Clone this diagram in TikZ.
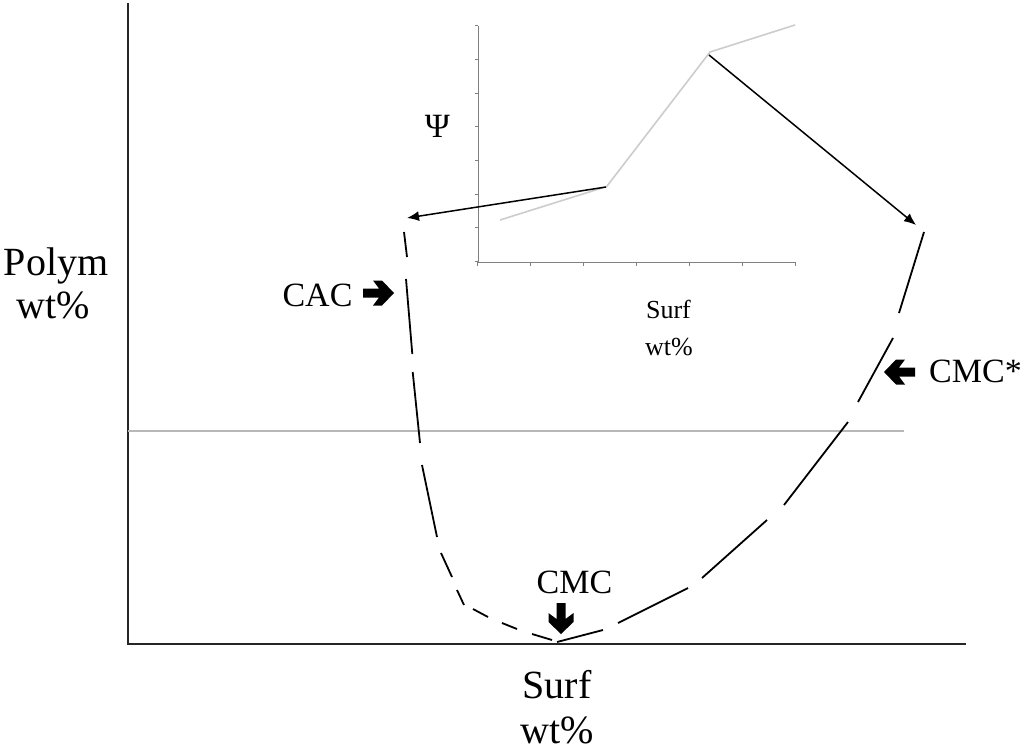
\documentclass[tikz,border=0pt]{standalone}
\usepackage{fontspec}
\setmainfont{Liberation Serif}
\usetikzlibrary{arrows.meta}
\begin{document}
\begin{tikzpicture}[x=1pt,y=-1pt,
  axis/.style={line width=2pt,black!85},
  inax/.style={line width=1pt,black!50},
  incurve/.style={line width=1.6pt,black!20},
  guide/.style={line width=1.4pt,black!28},
  bnd/.style={line width=1.8pt,black},
  pointer/.style={line width=1.5pt,black,-{Latex[length=12pt,width=10pt]}},
  lab/.style={inner sep=0pt,anchor=base},
  pics/barrow/.style={code={\fill[black] (-15,-4.5) -- (1,-4.5) -- (-5,-12.5) -- (4,-12.5) -- (16,0) -- (4,12.5) -- (-5,12.5) -- (1,4.5) -- (-15,4.5) -- cycle;}}]
\useasboundingbox (0,0) rectangle (1024,752);
% main axes
\coordinate (otop) at (128,3);
\coordinate (orig) at (128,644);
\coordinate (xend) at (966,644);
\draw[axis] (otop) -- (orig) -- (xend);
% guide line
\coordinate (gl) at (128,431);
\coordinate (gr) at (904,431);
\draw[guide] (gl) -- (gr);
% axis labels
\node[lab,font=\fontsize{40}{40}\selectfont] (ylab1) at (56,275) {Polym};
\node[lab,font=\fontsize{40}{40}\selectfont] (ylab2) at (53,318) {wt\%};
\node[lab,font=\fontsize{40}{40}\selectfont] (xlab1) at (557,698) {Surf};
\node[lab,font=\fontsize{40}{40}\selectfont] (xlab2) at (557,743) {wt\%};
% inset axes
\coordinate (itop) at (478,25.7);
\coordinate (iorig) at (478,262);
\coordinate (iend) at (795.7,262);
\draw[inax] (itop) -- (iorig) -- (iend);
\foreach \k in {0,...,7} \draw[inax] (475,25.7+\k*33.7) -- (478,25.7+\k*33.7);
\foreach \k in {0,...,6} \draw[inax] (477.7+\k*53,262) -- (477.7+\k*53,265.5);
% inset curve
\coordinate (c1) at (500,220);
\coordinate (c2) at (606.7,186.5);
\coordinate (c3) at (710,52);
\coordinate (c4) at (795,25);
\draw[incurve] (c1) -- (c2) -- (c3) -- (c4);
\node[lab,font=\fontsize{34}{34}\selectfont] (psi) at (437.5,137) {Ψ};
\node[lab,font=\fontsize{26}{26}\selectfont] (ilab1) at (668.5,318) {Surf};
\node[lab,font=\fontsize{26}{26}\selectfont] (ilab2) at (669,355) {wt\%};
% pointers from inset to boundary
\coordinate (p1s) at (606,187);
\coordinate (p1e) at (407,218);
\coordinate (p2s) at (709,55);
\coordinate (p2e) at (916,225);
\draw[pointer] (p1s) -- (p1e);
\draw[pointer] (p2s) -- (p2e);
% dashed boundary
\draw[bnd] (404,232) -- (407,257);
\draw[bnd] (406,279) -- (412.3,354);
\draw[bnd] (412.7,372) -- (420,443);
\draw[bnd] (422,465) -- (437,537);
\draw[bnd] (441,553) -- (452,577);
\draw[bnd] (457,590) -- (464,605);
\draw[bnd] (473,609) -- (488,617);
\draw[bnd] (502,623) -- (517,629);
\draw[bnd] (532,634) -- (552,640);
\draw[bnd] (557,642) -- (603,630);
\draw[bnd] (618,623) -- (688,588);
\draw[bnd] (702,578) -- (767,520);
\draw[bnd] (784,505) -- (848,422);
\draw[bnd] (858,402) -- (893,338);
\draw[bnd] (899,313) -- (924,232);
% labels with block arrows
\node[lab,font=\fontsize{34}{34}\selectfont] (cac) at (317.5,306) {CAC};
\pic at (378,293) {barrow};
\node[lab,font=\fontsize{34}{34}\selectfont] (cmcs) at (975.5,382) {CMC*};
\pic[xscale=-1] at (900,372) {barrow};
\node[lab,font=\fontsize{34}{34}\selectfont] (cmc) at (574.5,593) {CMC};
\pic[rotate=-90] at (561,618) {barrow};
\end{tikzpicture}
\end{document}
